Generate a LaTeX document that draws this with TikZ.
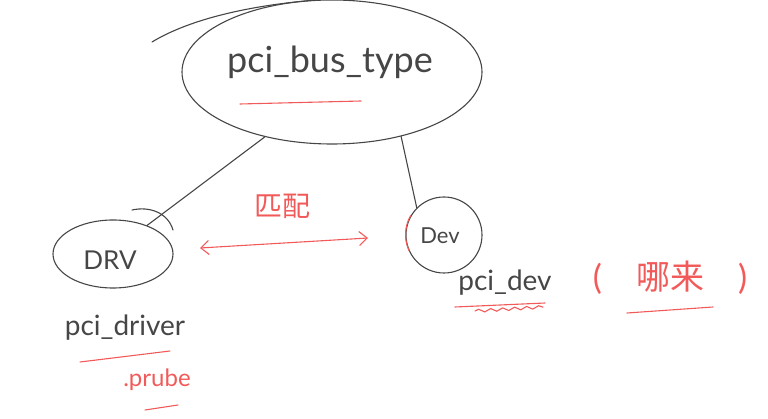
\documentclass[tikz,border=0pt]{standalone}
\usepackage{fontspec}
\setmainfont{Lato}
\newfontfamily\cjk{Noto Sans CJK SC}
\usetikzlibrary{shapes.geometric,decorations.pathmorphing,arrows.meta}
\definecolor{pen}{RGB}{70,70,70}
\definecolor{redpen}{RGB}{242,90,90}
\begin{document}
\begin{tikzpicture}[x=1pt, y=-1pt,
    ink/.style={draw=pen, line width=1.1pt, line cap=round},
    redink/.style={draw=redpen, line width=1.1pt, line cap=round},
    word/.style={text=pen, inner sep=0pt}]
    \useasboundingbox (0,0) rectangle (768,419);

    % bus in the middle
    \node[ink, ellipse, minimum width=300pt, minimum height=144pt, inner sep=0pt] (bus) at (332,72) {};
    \node[word, font=\fontsize{36}{40}\selectfont] (busname) at (330,62) {pci\_bus\_type};
    \draw[ink] (152,42) .. controls (185,22) and (240,6) .. (bus.100);
    \draw[redink] (240,104) -- (361,101);

    % driver side
    \node[ink, ellipse, minimum width=120pt, minimum height=68pt, inner sep=0pt] (drv) at (113,254) {};
    \node[word, font=\fontsize{26}{30}\selectfont] (drvname) at (110,260) {DRV};
    \draw[ink] (132,210) .. controls (150,206) and (168,213) .. (173,230);
    \node[word, font=\fontsize{28}{32}\selectfont] (pcidrv) at (125,328) {pci\_driver};
    \draw[redink] (80,362) -- (170,351);
    \node[text=redpen, inner sep=0pt, font=\fontsize{24}{28}\selectfont] (probe) at (157,380) {.prube};
    \draw[redink] (145,410) -- (178,405);

    % device side
    \node[ink, circle, minimum size=76pt, inner sep=0pt] (dev) at (444,235) {};
    \node[word, font=\fontsize{22}{26}\selectfont] (devname) at (440,236) {Dev};
    \draw[redink] (dev.150) arc[start angle=150, end angle=205, radius=38pt];
    \node[word, font=\fontsize{28}{32}\selectfont] (pcidev) at (505,283) {pci\_dev};
    \draw[redink] (455,307) -- (545,303);
    \draw[redink, decorate, decoration={snake, amplitude=1.5pt, segment length=12pt}] (475,311) -- (543,307);
    \node[text=redpen, inner sep=0pt, font=\fontsize{34}{38}\selectfont] (where) at (670,278) {(\quad{\cjk 哪来}\quad)};
    \draw[redink] (627,313) -- (713,307);

    % links
    \draw[ink] (bus.224) -- (drv.40);
    \draw[ink] (bus.317) -- (dev.135);

    % matching
    \coordinate (mL) at (200,248);
    \coordinate (mR) at (368,238);
    \draw[redink, <->, >={Straight Barb[length=8pt, width=14pt]}] (mL) -- (mR);
    \node[text=redpen, inner sep=0pt, font=\fontsize{28}{32}\cjk] (match) at (282,206) {匹配};

\end{tikzpicture}
\end{document}
